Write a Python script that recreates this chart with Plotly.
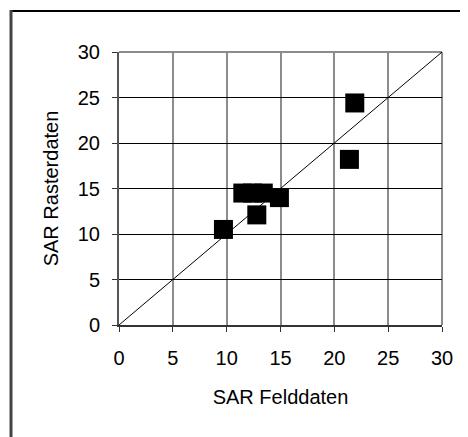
import plotly.graph_objects as go

sar_feld = [9.7, 11.5, 12.4, 13.4, 12.8, 14.9, 21.4, 21.9]
sar_raster = [10.5, 14.5, 14.5, 14.5, 12.1, 14.0, 18.2, 24.4]
diag_x = [0, 30]
diag_y = [0, 30]
tick_vals = [0, 5, 10, 15, 20, 25, 30]

# page body has an 8px margin; compensate so the picture lands where intended
OFF = 8
W, H = 468 - OFF, 437 - OFF
L, R, T, B = 119 - OFF, 26, 52 - OFF, 112
pw, ph = W - L - R, H - T - B

def px(x):
    return (x - OFF - L) / pw

def py(y):
    return (H - B - (y - OFF)) / ph

fig = go.Figure()
fig.add_trace(go.Scatter(x=diag_x, y=diag_y, mode="lines",
                         line=dict(color="black", width=1), hoverinfo="skip",
                         showlegend=False))
fig.add_trace(go.Scatter(x=sar_feld, y=sar_raster, mode="markers",
                         marker=dict(symbol="square", size=19, color="black",
                                     line=dict(width=0)),
                         showlegend=False))

font = dict(family="Liberation Sans, Arial, sans-serif", size=20, color="black")

fig.update_layout(
    width=W, height=H,
    margin=dict(l=L, r=R, t=T, b=B),
    paper_bgcolor="white", plot_bgcolor="white",
    font=font,
    xaxis=dict(range=[0, 30], tickvals=tick_vals, showgrid=True,
               gridcolor="#8c8c8c", gridwidth=2, zeroline=False,
               showline=True, linecolor="#333333", linewidth=2,
               ticks="outside", ticklen=5, tickcolor="#333333", tickwidth=1,
               ticklabelstandoff=9, tickfont=font,
               title=dict(text="SAR Felddaten", font=font, standoff=22),
               fixedrange=True),
    yaxis=dict(range=[0, 30], tickvals=tick_vals, showgrid=True,
               gridcolor="black", gridwidth=1, zeroline=False,
               showline=True, linecolor="#555555", linewidth=2,
               ticks="outside", ticklen=5, tickcolor="#333333", tickwidth=1,
               ticklabelstandoff=8, tickfont=font,
               title=dict(text="SAR Rasterdaten", font=font, standoff=14),
               fixedrange=True),
    shapes=[
        dict(type="line", xref="paper", yref="paper",
             x0=px(11), x1=px(470), y0=py(11), y1=py(11),
             line=dict(color="black", width=2)),
        dict(type="line", xref="paper", yref="paper",
             x0=px(11), x1=px(11), y0=py(10), y1=py(440),
             line=dict(color="#444444", width=3)),
        dict(type="line", xref="paper", yref="paper",
             x0=1, x1=1, y0=0, y1=1,
             line=dict(color="#8c8c8c", width=2), layer="below"),
        dict(type="line", xref="paper", yref="paper",
             x0=0, x1=1, y0=1, y1=1,
             line=dict(color="#8c8c8c", width=2), layer="below"),
    ],
)

fig.write_html("out.html")
